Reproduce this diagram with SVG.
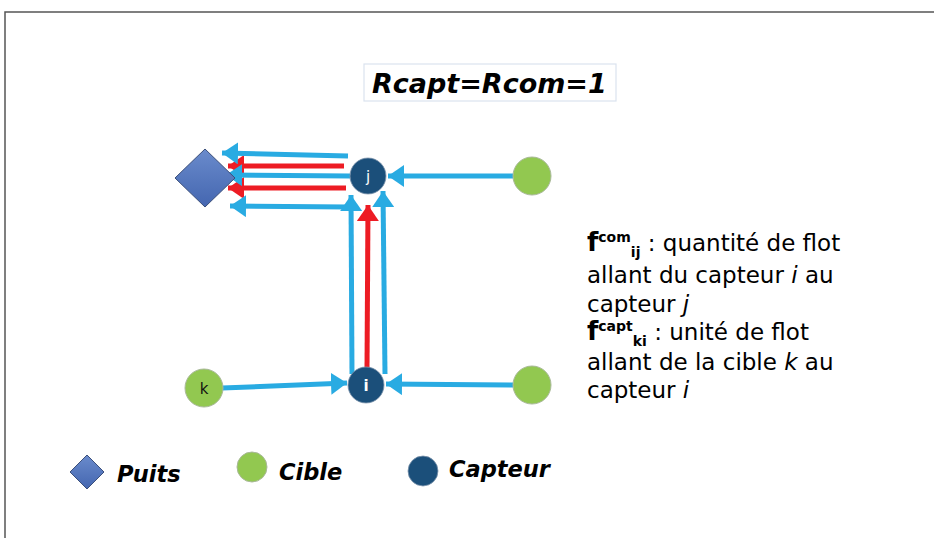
<svg xmlns="http://www.w3.org/2000/svg" width="934" height="538" viewBox="0 0 934 538">
<defs>
<linearGradient id="gd" x1="0" y1="0" x2="0" y2="1"><stop offset="0" stop-color="#6a8bcc"/><stop offset="1" stop-color="#4466b0"/></linearGradient>
<marker id="ab" markerUnits="userSpaceOnUse" markerWidth="18" markerHeight="22" refX="16" refY="11" orient="auto"><path d="M0,0 L16,11 L0,22 Z" fill="#29abe2"/></marker>
<marker id="ar" markerUnits="userSpaceOnUse" markerWidth="18" markerHeight="22" refX="16" refY="11" orient="auto"><path d="M0,0 L16,11 L0,22 Z" fill="#ed1c24"/></marker>
</defs>
<style>
.b{stroke:#29abe2;stroke-width:5;fill:none;marker-end:url(#ab)}
.r{stroke:#ed1c24;stroke-width:5;fill:none;marker-end:url(#ar)}
.cap{fill:#1b4f7a;stroke:#7f96ad;stroke-width:0.8}
.tgt{fill:#92c850;stroke:#a9b89a;stroke-width:1}
.sink{fill:url(#gd);stroke:#3b4f7a;stroke-width:1}
.lbl{font-family:"DejaVu Sans",sans-serif;font-weight:bold;font-style:italic;fill:#000}
.t{font-family:"DejaVu Sans",sans-serif;font-size:23px;fill:#000}
</style>
<rect width="934" height="538" fill="#fff"/>
<path d="M5,538 V12 H934" fill="none" stroke="#555" stroke-width="1.5"/>
<g id="title"><rect x="364" y="64" width="252" height="37" fill="#fff" stroke="#dbe3ef" stroke-width="1.2"/><text class="lbl" x="372" y="93" font-size="27">Rcapt=Rcom=1</text></g>
<g id="connectors">
<line class="r" x1="344" y1="166" x2="228" y2="166"/>
<line class="r" x1="346" y1="188" x2="228" y2="188"/>
<line class="r" x1="367" y1="368" x2="368" y2="205"/>
<line class="b" x1="348" y1="156" x2="222" y2="153"/>
<line class="b" x1="350" y1="176" x2="226" y2="175"/>
<line class="b" x1="348" y1="207" x2="230" y2="206"/>
<line class="b" x1="352" y1="374" x2="351" y2="195"/>
<line class="b" x1="385" y1="374" x2="383" y2="191"/>
<line class="b" x1="513" y1="176" x2="388" y2="176"/>
<line class="b" x1="222" y1="388" x2="347" y2="383"/>
<line class="b" x1="513" y1="385" x2="386" y2="384"/>
</g>
<g id="sink"><path class="sink" d="M205,149 L235,178 L205,207 L175,178 Z"/></g>
<g id="j"><circle class="cap" cx="368" cy="176" r="18"/><text x="368" y="182" font-family="DejaVu Sans,sans-serif" font-size="15" fill="#fff" text-anchor="middle">j</text></g>
<g id="i"><circle class="cap" cx="366" cy="385" r="18"/><text x="366" y="391" font-family="DejaVu Sans,sans-serif" font-size="15" font-weight="bold" fill="#fff" text-anchor="middle">i</text></g>
<g id="t1"><circle class="tgt" cx="532" cy="176" r="19"/></g>
<g id="t2"><circle class="tgt" cx="532" cy="385" r="19"/></g>
<g id="k"><circle class="tgt" cx="204" cy="388" r="19"/><text x="204" y="394" font-family="DejaVu Sans,sans-serif" font-size="15" fill="#111" text-anchor="middle">k</text></g>
<g id="legend">
<path class="sink" d="M87,455 L104,472 L87,489 L70,472 Z"/>
<text class="lbl" x="117" y="482" font-size="22.5">Puits</text>
<circle class="tgt" cx="252" cy="467" r="15"/>
<text class="lbl" x="279" y="480" font-size="22.5">Cible</text>
<circle class="cap" cx="423" cy="471" r="15"/>
<text class="lbl" x="449" y="477" font-size="22.5">Capteur</text>
</g>
<g id="desc">
<text class="t" x="587" y="251"><tspan font-weight="bold" font-size="26">f</tspan><tspan font-weight="bold" font-size="14" dy="-9">com</tspan><tspan font-weight="bold" font-size="14" dy="15">ij</tspan><tspan dy="-6"> : quantité de flot</tspan></text>
<text class="t" x="587" y="283">allant du capteur <tspan font-style="italic">i</tspan> au</text>
<text class="t" x="587" y="312">capteur <tspan font-style="italic">j</tspan></text>
<text class="t" x="587" y="340"><tspan font-weight="bold" font-size="26">f</tspan><tspan font-weight="bold" font-size="14" dy="-9">capt</tspan><tspan font-weight="bold" font-size="14" dy="15">ki</tspan><tspan dy="-6"> : unité de flot</tspan></text>
<text class="t" x="587" y="370">allant de la cible <tspan font-style="italic">k</tspan> au</text>
<text class="t" x="587" y="398">capteur <tspan font-style="italic">i</tspan></text>
</g>
</svg>
